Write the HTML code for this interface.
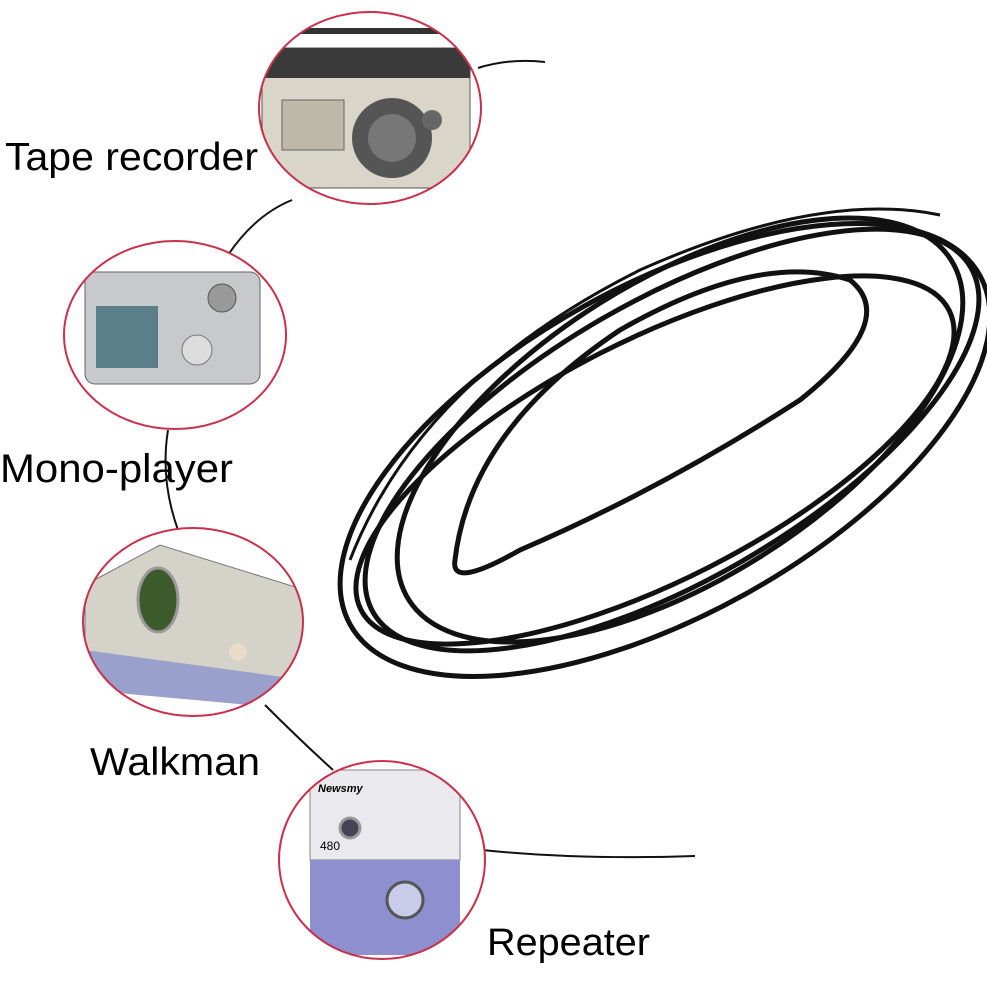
<!DOCTYPE html>
<html><head><meta charset="utf-8"><style>
html,body{margin:0;padding:0;background:#fff;}
svg{display:block}
text{font-family:"Liberation Sans",sans-serif;fill:#000}
</style></head><body>
<svg width="987" height="1000" viewBox="0 0 987 1000" xmlns="http://www.w3.org/2000/svg">
<defs>
<clipPath id="c1"><ellipse cx="370" cy="108" rx="111" ry="96"/></clipPath>
<clipPath id="c2"><ellipse cx="175" cy="335" rx="111" ry="94"/></clipPath>
<clipPath id="c3"><ellipse cx="193" cy="622" rx="110" ry="94"/></clipPath>
<clipPath id="c4"><ellipse cx="382" cy="860" rx="103" ry="99"/></clipPath>
</defs>

<g fill="none" stroke="#111" stroke-width="2">
<path d="M478 68 Q510 58 545 62"/>
<path d="M292 200 Q255 215 228 255"/>
<path d="M168 430 Q160 480 178 530"/>
<path d="M265 705 Q300 740 333 770"/>
<path d="M482 850 Q580 860 695 856"/>
</g>

<g fill="none" stroke="#111" stroke-width="5">
<ellipse cx="665" cy="450" rx="360" ry="165" transform="rotate(-29 665 450)"/>
<ellipse cx="672" cy="440" rx="345" ry="140" transform="rotate(-30 672 440)"/>
<ellipse cx="655" cy="460" rx="330" ry="120" transform="rotate(-27 655 460)"/>
<ellipse cx="680" cy="430" rx="320" ry="150" transform="rotate(-32 680 430)"/>
<path d="M455 560 Q470 430 620 330 Q760 250 850 280 Q900 320 800 400 Q660 490 520 550 Q450 590 455 560Z"/>
</g>
<g fill="none" stroke="#111" stroke-width="3">
<path d="M350 560 Q420 380 640 270 Q820 190 940 215"/>
</g>

<g clip-path="url(#c1)">
<rect x="250" y="0" width="250" height="220" fill="#fff"/>
<rect x="262" y="48" width="208" height="140" fill="#d9d5c8" stroke="#555"/>
<rect x="262" y="48" width="208" height="30" fill="#3a3a3a"/>
<rect x="282" y="100" width="62" height="50" fill="#bdb8a8" stroke="#666"/>
<circle cx="392" cy="138" r="40" fill="#555"/>
<circle cx="392" cy="138" r="24" fill="#777"/>
<circle cx="432" cy="120" r="10" fill="#666"/>
<rect x="262" y="28" width="200" height="6" fill="#333"/>
</g>
<ellipse cx="370" cy="108" rx="111" ry="96" fill="none" stroke="#c9304b" stroke-width="2"/>

<g clip-path="url(#c2)">
<rect x="60" y="235" width="230" height="200" fill="#fff"/>
<rect x="85" y="272" width="175" height="112" rx="10" fill="#c8c9cc" stroke="#666"/>
<rect x="96" y="306" width="62" height="62" fill="#5b7f88"/>
<circle cx="222" cy="298" r="14" fill="#999" stroke="#555"/>
<circle cx="197" cy="350" r="15" fill="#ddd" stroke="#777"/>
</g>
<ellipse cx="175" cy="335" rx="111" ry="94" fill="none" stroke="#c9304b" stroke-width="2"/>

<g clip-path="url(#c3)">
<rect x="80" y="525" width="230" height="200" fill="#fff"/>
<path d="M85 585 L160 545 L305 590 L305 700 L85 680Z" fill="#d5d2c9" stroke="#777"/>
<path d="M85 650 L305 680 L305 710 L85 690Z" fill="#9aa0cc"/>
<ellipse cx="158" cy="600" rx="20" ry="32" fill="#3d5a2d" stroke="#999" stroke-width="3"/>
<circle cx="238" cy="652" r="9" fill="#e8dcc8"/>
</g>
<ellipse cx="193" cy="622" rx="110" ry="94" fill="none" stroke="#c9304b" stroke-width="2"/>

<g clip-path="url(#c4)">
<rect x="275" y="755" width="215" height="210" fill="#fff"/>
<rect x="310" y="770" width="150" height="90" fill="#e9e9ee" stroke="#888"/>
<rect x="310" y="860" width="150" height="95" fill="#8d8fcf"/>
<circle cx="350" cy="828" r="10" fill="#445" stroke="#999" stroke-width="3"/>
<circle cx="405" cy="900" r="18" fill="#c9cbe8" stroke="#555" stroke-width="3"/>
<text x="318" y="792" font-size="11" font-style="italic" font-weight="bold">Newsmy</text>
<text x="320" y="850" font-size="12">480</text>
</g>
<ellipse cx="382" cy="860" rx="103" ry="99" fill="none" stroke="#c9304b" stroke-width="2"/>

<text x="5" y="170" font-size="39" textLength="253" lengthAdjust="spacingAndGlyphs">Tape recorder</text>
<text x="0" y="482" font-size="40" textLength="233" lengthAdjust="spacingAndGlyphs">Mono-player</text>
<text x="90" y="775" font-size="39" textLength="170" lengthAdjust="spacingAndGlyphs">Walkman</text>
<text x="487" y="955" font-size="38" textLength="163" lengthAdjust="spacingAndGlyphs">Repeater</text>
</svg>
</body></html>
